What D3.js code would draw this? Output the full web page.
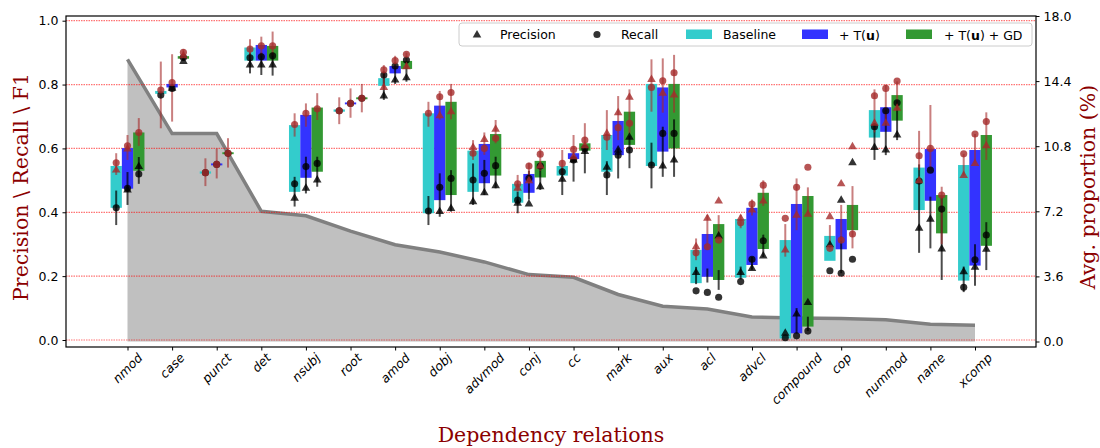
<!DOCTYPE html>
<html>
<head>
<meta charset="utf-8">
<script src="https://cdn.jsdelivr.net/npm/d3@7"></script>
<style>
  body { margin: 0; background: #fff; }
  svg { display: block; }
  text { font-family: "DejaVu Sans", sans-serif; }
</style>
</head>
<body>
<script>
// categories and average proportion (%) (right axis)
var categories = ["nmod", "case", "punct", "det", "nsubj", "root", "amod", "dobj", "advmod", "conj",
                  "cc", "mark", "aux", "acl", "advcl", "compound", "cop", "nummod", "name", "xcomp"];
var proportion = [15.6, 11.5, 11.5, 7.2, 6.95, 6.1, 5.35, 4.95, 4.4, 3.7,
                  3.55, 2.6, 1.95, 1.8, 1.35, 1.3, 1.27, 1.2, 0.95, 0.9];

var leftTicks = [0.0, 0.2, 0.4, 0.6, 0.8, 1.0];
var rightTicks = [0.0, 3.6, 7.2, 10.8, 14.4, 18.0];

// Baseline: bar [low, high], red [P, R], black [P, R], error ranges
var baseBar = [[0.414,0.545],[0.771,0.780],[0.521,0.528],[0.875,0.916],[0.464,0.673],[0.715,0.722],[0.796,0.820],[0.397,0.710],[0.464,0.593],[0.430,0.489],
               [0.515,0.545],[0.527,0.642],[0.545,0.802],[0.178,0.282],[0.195,0.379],[0.005,0.313],[0.248,0.326],[0.634,0.720],[0.407,0.540],[0.186,0.548]];
var baseRed = [[0.532,0.555],[null,0.783],[null,0.524],[null,0.911],[null,0.675],[null,0.718],[0.791,0.846],[null,0.710],[0.603,0.585],[0.475,0.489],
               [null,0.553],[0.647,0.635],[0.816,0.791],[0.292,0.273],[0.381,0.367],[0.282,0.381],[0.386,0.287],[0.679,0.765],[0.499,0.577],[0.515,0.583]];
var baseBlack = [[null,0.414],[null,0.767],[null,0.524],[0.861,0.884],[0.444,0.489],[null,0.718],[0.764,0.830],[null,0.404],[0.433,0.501],[0.428,0.438],
                 [0.503,0.527],[0.541,0.517],[null,0.548],[0.211,0.154],[0.211,0.183],[0.021,0.007],[0.298,0.217],[0.603,0.668],[0.350,0.498],[0.214,0.165]];
var baseRedErr = [[0.517,0.585],[0.663,0.872],[0.482,0.569],[0.880,0.942],[0.637,0.710],[0.676,0.760],[0.785,0.861],[0.668,0.746],[0.564,0.626],[0.464,0.517],
                  [0.518,0.595],[0.595,0.720],[0.715,0.879],[0.250,0.318],[0.350,0.392],[0.261,0.363],[0.287,0.360],[0.650,0.785],[0.532,0.655],[0.515,0.583]];
var baseBlackErr = [[0.360,0.468],null,null,[0.835,0.900],[0.418,0.511],null,[0.752,0.840],[0.360,0.451],[0.423,0.553],[0.397,0.464],
                    [0.454,0.540],[0.454,0.560],[0.475,0.618],[0.175,0.229],[0.190,0.230],null,null,[0.564,0.680],[0.273,0.550],[0.150,0.230]];

// + T(u)
var tuBar = [[0.474,0.601],[0.791,0.802],[0.547,0.553],[0.875,0.924],[0.508,0.705],[0.738,0.744],[0.835,0.858],[0.438,0.734],[0.491,0.614],[0.461,0.520],
             [0.567,0.585],[0.579,0.686],[0.590,0.791],[0.198,0.332],[0.235,0.414],[0.021,0.426],[0.284,0.379],[0.652,0.729],[0.436,0.598],[0.233,0.595]];
var tuRed = [[0.598,0.608],[null,0.806],[null,0.550],[null,0.921],[null,0.710],[null,0.741],[null,0.875],[0.702,0.762],[0.628,0.600],[0.499,0.545],
             [0.574,0.597],[0.712,0.665],[0.773,0.812],[0.381,0.292],[0.407,0.426],[0.391,0.478],[0.489,0.313],[0.679,0.788],[null,0.600],[0.553,0.645]];
var tuBlack = [[0.470,0.475],[0.788,0.788],[null,0.550],[0.861,0.887],[0.475,0.543],[null,0.741],[0.814,0.858],[0.402,0.478],[0.461,0.522],[0.426,0.506],
               [0.564,0.564],[0.595,0.579],[0.545,0.647],[null,0.149],[0.224,0.253],[0.081,0.013],[0.438,0.209],[0.595,0.718],[0.378,0.532],[0.228,0.251]];
var tuRedErr = [[0.564,0.642],[0.684,0.895],[0.506,0.600],[0.890,0.950],[0.668,0.741],[0.696,0.788],[0.850,0.890],[0.690,0.780],[0.580,0.650],[0.490,0.555],
                [0.560,0.642],[0.626,0.764],[0.712,0.882],[0.282,0.392],[0.390,0.440],[0.344,0.506],[0.310,0.423],[0.680,0.800],[0.532,0.736],[0.550,0.645]];
var tuBlackErr = [[0.423,0.526],null,null,[0.830,0.900],[0.459,0.574],null,[0.802,0.860],[0.386,0.522],[0.454,0.564],[0.440,0.530],
                  [0.496,0.570],[0.506,0.600],[0.511,0.668],[0.180,0.224],[0.220,0.260],[0.020,0.100],[0.209,0.324],[0.579,0.720],[0.287,0.449],[0.170,0.300]];

// + T(u) + GD
var gdBar = [[0.530,0.650],[0.881,0.889],[0.582,0.588],[0.875,0.921],[0.527,0.728],[0.754,0.760],[0.849,0.874],[0.454,0.746],[0.515,0.645],[0.509,0.561],
             [0.593,0.616],[0.611,0.715],[0.600,0.802],[0.188,0.363],[0.285,0.461],[0.042,0.451],[0.344,0.423],[0.687,0.767],[0.334,0.454],[0.295,0.642]];
var gdRed = [[null,0.650],[0.890,0.901],[null,0.585],[null,0.921],[null,0.724],[null,0.757],[0.856,0.895],[0.715,0.775],[0.660,0.632],[0.545,0.582],
             [0.608,0.626],[0.760,0.679],[0.767,0.837],[0.435,0.313],[0.435,0.485],[0.394,0.541],[0.605,0.332],[0.726,0.811],[null,0.454],[0.608,0.684]];
var gdBlack = [[0.543,0.520],[0.872,0.885],[null,0.585],[0.861,0.890],[0.501,0.553],[null,0.757],[0.821,0.877],[0.412,0.506],[0.483,0.546],[0.480,0.545],
               [0.590,0.600],[0.635,0.595],[0.564,0.647],[0.326,0.134],[0.263,0.311],[0.117,0.028],[0.555,0.253],[0.642,0.743],[0.285,0.410],[0.284,0.329]];
var gdRedErr = [[0.608,0.695],[0.877,0.911],[0.540,0.632],[0.890,0.966],[0.689,0.773],[0.713,0.802],[0.850,0.900],[0.691,0.802],[0.616,0.689],[0.530,0.598],
                [0.590,0.679],[0.647,0.785],[0.712,0.893],[0.313,0.391],[0.420,0.500],[0.394,0.478],[0.287,0.482],[0.720,0.810],[0.300,0.480],[0.564,0.713]];
var gdBlackErr = [[0.489,0.573],null,null,[0.828,0.900],[0.480,0.574],null,[0.809,0.870],[0.402,0.532],[0.475,0.574],[0.470,0.550],
                  [0.522,0.600],[0.538,0.640],[0.511,0.691],[0.157,0.219],[0.260,0.330],[0.028,0.073],null,[0.626,0.750],[0.188,0.450],[0.219,0.369]];

var models = [
  {name: "Baseline", color: "#33cccc", off: -1, bar: baseBar, red: baseRed, black: baseBlack, redErr: baseRedErr, blackErr: baseBlackErr},
  {name: "+ T(u)", color: "#3333ff", off: 0, bar: tuBar, red: tuRed, black: tuBlack, redErr: tuRedErr, blackErr: tuBlackErr},
  {name: "+ T(u) + GD", color: "#339933", off: 1, bar: gdBar, red: gdRed, black: gdBlack, redErr: gdRedErr, blackErr: gdBlackErr}
];

var W = 1100, H = 448;
var plot = {left: 66, right: 1036, top: 16, bottom: 347};
var barW = 11.3;
var redCol = "#a52a2a";

var svg = d3.select("body").append("svg").attr("width", W).attr("height", H);

var x = d3.scalePoint().domain(categories).range([127.5, 975]);
var y = d3.scaleLinear().domain([0, 1]).range([340, 20.7]);
var y2 = d3.scaleLinear().domain([0, 18]).range([341.5, 16]);

// grey area of average proportion
var area = d3.area()
  .x(function(d, i) { return x(categories[i]); })
  .y0(y2(0))
  .y1(function(d) { return y2(d); });
var line = d3.line()
  .x(function(d, i) { return x(categories[i]); })
  .y(function(d) { return y2(d); });

svg.append("path").datum(proportion).attr("d", area).attr("fill", "#c0c0c0");
svg.append("path").datum(proportion).attr("d", line)
  .attr("fill", "none").attr("stroke", "#808080").attr("stroke-width", 3.5);

// red grid lines
svg.selectAll(".grid").data(leftTicks).enter().append("line")
  .attr("x1", plot.left).attr("x2", plot.right)
  .attr("y1", function(d) { return y(d); }).attr("y2", function(d) { return y(d); })
  .attr("stroke", "red").attr("stroke-opacity", 0.55).attr("stroke-width", 1.2)
  .attr("stroke-dasharray", "1.5,1");

// bars
models.forEach(function(m) {
  svg.append("g").selectAll("rect").data(m.bar).enter().append("rect")
    .attr("x", function(d, i) { return x(categories[i]) + m.off * barW - barW / 2; })
    .attr("width", barW)
    .attr("y", function(d) { return y(d[1]); })
    .attr("height", function(d) { return Math.max(1, y(d[0]) - y(d[1])); })
    .attr("fill", m.color);
});

function cx(m, i) { return x(categories[i]) + m.off * barW; }

// error bars
models.forEach(function(m) {
  svg.append("g").selectAll("line").data(m.blackErr).enter().filter(function(d) { return d; })
    .append("line")
    .attr("x1", function(d, i) { return cx(m, m.blackErr.indexOf(d)); })
    .attr("x2", function(d, i) { return cx(m, m.blackErr.indexOf(d)); })
    .attr("y1", function(d) { return y(d[0]); }).attr("y2", function(d) { return y(d[1]); })
    .attr("stroke", "#000").attr("stroke-opacity", 0.7).attr("stroke-width", 2);
  m.redErr.forEach(function(d, i) {
    svg.append("line")
      .attr("x1", cx(m, i)).attr("x2", cx(m, i))
      .attr("y1", y(d[0])).attr("y2", y(d[1]))
      .attr("stroke", redCol).attr("stroke-opacity", 0.6).attr("stroke-width", 2);
  });
});

var tri = d3.symbol().type(d3.symbolTriangle).size(32);
var circ = d3.symbol().type(d3.symbolCircle).size(40);

function drawMarkers(m, vals, color) {
  vals.forEach(function(d, i) {
    if (d[0] != null) {
      svg.append("path").attr("d", tri)
        .attr("transform", "translate(" + cx(m, i) + "," + y(d[0]) + ")")
        .attr("fill", color).attr("fill-opacity", 0.8);
    }
    if (d[1] != null) {
      svg.append("path").attr("d", circ)
        .attr("transform", "translate(" + cx(m, i) + "," + y(d[1]) + ")")
        .attr("fill", color).attr("fill-opacity", 0.8);
    }
  });
}
models.forEach(function(m) { drawMarkers(m, m.black, "#000"); });
models.forEach(function(m) { drawMarkers(m, m.red, redCol); });

// frame
svg.append("rect").attr("x", plot.left).attr("y", plot.top)
  .attr("width", plot.right - plot.left).attr("height", plot.bottom - plot.top)
  .attr("fill", "none").attr("stroke", "#000").attr("stroke-width", 1.2);

// left axis
var gl = svg.append("g").attr("transform", "translate(" + plot.left + ",0)")
  .call(d3.axisLeft(y).tickValues(leftTicks).tickFormat(d3.format(".1f")).tickSize(3.5).tickPadding(4));
gl.select(".domain").remove();
gl.selectAll("text").style("font-size", "12.5px").style("font-family", "DejaVu Sans");

// right axis
var gr = svg.append("g").attr("transform", "translate(" + plot.right + ",0)")
  .call(d3.axisRight(y2).tickValues(rightTicks).tickFormat(d3.format(".1f")).tickSize(3.5).tickPadding(4));
gr.select(".domain").remove();
gr.selectAll("text").style("font-size", "12.5px").style("font-family", "DejaVu Sans");

// bottom axis with rotated labels
var gb = svg.append("g").attr("transform", "translate(0," + plot.bottom + ")")
  .call(d3.axisBottom(x).tickSize(3.5).tickFormat(""));
gb.select(".domain").remove();
var ang = 45 * Math.PI / 180;
categories.forEach(function(c) {
  var t = svg.append("text").text(c)
    .style("font-size", "12.5px").style("font-style", "italic")
    .attr("text-anchor", "middle").attr("dominant-baseline", "central");
  var w = t.node().getComputedTextLength();
  var fh = 12.5;
  var h = w * Math.sin(ang) + fh * Math.cos(ang);
  t.attr("transform", "translate(" + x(c) + "," + (plot.bottom + 4 + h / 2) + ") rotate(-45)");
});

// axis titles
var serif = "DejaVu Serif, serif";
svg.append("text").text("Precision \\ Recall \\ F1")
  .attr("transform", "translate(21,187) rotate(-90)")
  .attr("text-anchor", "middle").attr("dominant-baseline", "central")
  .style("font-family", serif).style("font-size", "20.5px").attr("fill", "#8b0000");
svg.append("text").text("Avg. proportion (%)")
  .attr("transform", "translate(1088,187) rotate(-90)")
  .attr("text-anchor", "middle").attr("dominant-baseline", "central")
  .style("font-family", serif).style("font-size", "20.5px").attr("fill", "#8b0000");
svg.append("text").text("Dependency relations")
  .attr("x", 551).attr("y", 442).attr("text-anchor", "middle")
  .style("font-family", serif).style("font-size", "20.5px").attr("fill", "#8b0000");

// legend
var lg = svg.append("g");
lg.append("rect").attr("x", 459).attr("y", 23).attr("width", 573).attr("height", 23).attr("rx", 3)
  .attr("fill", "#fff").attr("fill-opacity", 0.85).attr("stroke", "#cccccc");
lg.append("path").attr("d", tri).attr("transform", "translate(477,35)").attr("fill", "#000").attr("fill-opacity", 0.8);
lg.append("path").attr("d", circ).attr("transform", "translate(597,34.5)").attr("fill", "#000").attr("fill-opacity", 0.8);
var legText = [{x: 500, t: "Precision"}, {x: 621, t: "Recall"}];
legText.forEach(function(d) {
  lg.append("text").attr("x", d.x).attr("y", 34.5).attr("dominant-baseline", "central")
    .style("font-size", "12.5px").text(d.t);
});
var patchX = [686, 802, 906];
var textX = [723, 839, 944];
models.forEach(function(m, i) {
  lg.append("rect").attr("x", patchX[i]).attr("y", 29.5).attr("width", 26).attr("height", 9.5).attr("fill", m.color);
  var t = lg.append("text").attr("x", textX[i]).attr("y", 34.5).attr("dominant-baseline", "central")
    .style("font-size", "12.5px");
  if (i === 0) {
    t.text(m.name);
  } else {
    t.append("tspan").text("+ T(");
    t.append("tspan").style("font-weight", "bold").text("u");
    t.append("tspan").text(i === 1 ? ")" : ") + GD");
  }
});
</script>
</body>
</html>
